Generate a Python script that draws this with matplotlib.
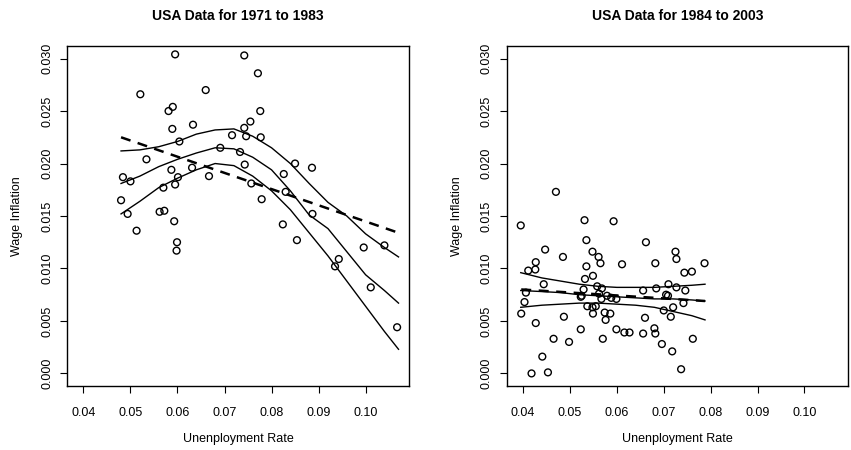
import matplotlib.pyplot as plt

plt.rcParams['font.family'] = ['Liberation Sans', 'DejaVu Sans']

# 1971-1983: unemployment rate vs wage inflation
early_u = [0.0595, 0.0521, 0.0660, 0.0590, 0.0581, 0.0589, 0.0633, 0.0716, 0.0604, 0.0691,
           0.0733, 0.0534, 0.0484, 0.0500, 0.0587, 0.0631, 0.0601, 0.0667, 0.0570, 0.0595,
           0.0480, 0.0742, 0.0771, 0.0776, 0.0755, 0.0742, 0.0746, 0.0777, 0.0743, 0.0850,
           0.0886, 0.0826, 0.0757, 0.0830, 0.0779, 0.0887, 0.0824, 0.0854, 0.0996, 0.1040,
           0.0943, 0.0935, 0.1011, 0.1067, 0.0494, 0.0513, 0.0562, 0.0572, 0.0593, 0.0599,
           0.0598]
early_w = [0.0304, 0.0266, 0.0270, 0.0254, 0.0250, 0.0233, 0.0237, 0.0227, 0.0221, 0.0215,
           0.0211, 0.0204, 0.0187, 0.0183, 0.0194, 0.0196, 0.0187, 0.0188, 0.0177, 0.0180,
           0.0165, 0.0303, 0.0286, 0.0250, 0.0240, 0.0234, 0.0226, 0.0225, 0.0199, 0.0200,
           0.0196, 0.0190, 0.0181, 0.0173, 0.0166, 0.0152, 0.0142, 0.0127, 0.0120, 0.0122,
           0.0109, 0.0102, 0.0082, 0.0044, 0.0152, 0.0136, 0.0154, 0.0155, 0.0145, 0.0125,
           0.0117]

# 1984-2003
late_u = [0.0395, 0.0470, 0.0531, 0.0593, 0.0535, 0.0662, 0.0447, 0.0548, 0.0561, 0.0485,
          0.0565, 0.0611, 0.0682, 0.0725, 0.0727, 0.0427, 0.0411, 0.0426, 0.0535, 0.0532,
          0.0549, 0.0396, 0.0403, 0.0406, 0.0444, 0.0427, 0.0418, 0.0453, 0.0441, 0.0465,
          0.0487, 0.0498, 0.0523, 0.0523, 0.0529, 0.0537, 0.0549, 0.0555, 0.0558, 0.0570,
          0.0567, 0.0568, 0.0576, 0.0574, 0.0579, 0.0586, 0.0588, 0.0599, 0.0599, 0.0616,
          0.0627, 0.0656, 0.0656, 0.0660, 0.0680, 0.0682, 0.0684, 0.0696, 0.0700, 0.0705,
          0.0709, 0.0710, 0.0715, 0.0718, 0.0720, 0.0727, 0.0787, 0.0744, 0.0760, 0.0746,
          0.0742, 0.0762, 0.0737, 0.0562, 0.0525, 0.0548]
late_w = [0.0141, 0.0173, 0.0146, 0.0145, 0.0127, 0.0125, 0.0118, 0.0116, 0.0111, 0.0111,
          0.0105, 0.0104, 0.0105, 0.0116, 0.0109, 0.0106, 0.0098, 0.0099, 0.0102, 0.0090,
          0.0093, 0.0057, 0.0068, 0.0077, 0.0085, 0.0048, 0.0000, 0.0001, 0.0016, 0.0033,
          0.0054, 0.0030, 0.0042, 0.0073, 0.0080, 0.0064, 0.0057, 0.0064, 0.0083, 0.0033,
          0.0071, 0.0081, 0.0051, 0.0058, 0.0074, 0.0057, 0.0072, 0.0071, 0.0042, 0.0039,
          0.0039, 0.0038, 0.0079, 0.0053, 0.0043, 0.0038, 0.0081, 0.0028, 0.0060, 0.0075,
          0.0074, 0.0085, 0.0054, 0.0021, 0.0063, 0.0082, 0.0105, 0.0096, 0.0097, 0.0079,
          0.0067, 0.0033, 0.0004, 0.0076, 0.0074, 0.0063]

# smooth fit with upper / lower bands
early_gx = [0.048, 0.052, 0.056, 0.060, 0.064, 0.068, 0.072, 0.076, 0.080, 0.084,
            0.088, 0.092, 0.096, 0.100, 0.104, 0.107]
early_hi = [0.0212, 0.0213, 0.0216, 0.0221, 0.0228, 0.0232, 0.0233, 0.0226, 0.0215, 0.0200,
            0.0181, 0.0163, 0.0150, 0.0133, 0.0120, 0.0111]
early_fit = [0.0181, 0.0188, 0.0197, 0.0204, 0.0210, 0.0215, 0.0214, 0.0206, 0.0194, 0.0174,
             0.0151, 0.0138, 0.0116, 0.0094, 0.0079, 0.0067]
early_lo = [0.0152, 0.0164, 0.0177, 0.0186, 0.0194, 0.0200, 0.0198, 0.0188, 0.0174, 0.0156,
            0.0134, 0.0112, 0.0088, 0.0064, 0.0040, 0.0023]
early_lin_x = [0.048, 0.107]
early_lin_y = [0.0225, 0.0134]

late_gx = [0.0395, 0.044, 0.048, 0.052, 0.056, 0.060, 0.064, 0.068, 0.072, 0.076, 0.0788]
late_hi = [0.0096, 0.0091, 0.0088, 0.0085, 0.0083, 0.0082, 0.0082, 0.0082, 0.0083, 0.0084, 0.0085]
late_fit = [0.0079, 0.0078, 0.0077, 0.0075, 0.0074, 0.0073, 0.0072, 0.0071, 0.0071, 0.0070, 0.0069]
late_lo = [0.0063, 0.0065, 0.0066, 0.0067, 0.0067, 0.0066, 0.0065, 0.0063, 0.0059, 0.0055, 0.0051]
late_lin_x = [0.0396, 0.0788]
late_lin_y = [0.0080, 0.0069]

xticks = [0.04, 0.05, 0.06, 0.07, 0.08, 0.09, 0.10]
yticks = [0.000, 0.005, 0.010, 0.015, 0.020, 0.025, 0.030]


def panel(ax, u, w, gx, hi, fit, lo, lx, ly, title):
    ax.scatter(u, w, s=24, facecolors='none', edgecolors='black', linewidths=1.0, zorder=3)
    for curve in (hi, fit, lo):
        ax.plot(gx, curve, color='black', lw=1.0)
    ax.plot(lx, ly, color='black', lw=1.8, linestyle=(0, (4, 3)))
    ax.set_xlim(0.0365, 0.1093)
    ax.set_ylim(-0.0012, 0.0312)
    ax.set_xticks(xticks)
    ax.set_xticklabels([f'{t:.2f}' for t in xticks])
    ax.set_yticks(yticks)
    ax.set_yticklabels([f'{t:.3f}' for t in yticks], rotation=90, va='center')
    ax.tick_params(direction='out', length=5, width=0.8, labelsize=9)
    ax.tick_params(axis='x', pad=10)
    ax.tick_params(axis='y', pad=5)
    for s in ax.spines.values():
        s.set_linewidth(1.0)
    ax.set_title(title, fontsize=10, fontweight='bold', pad=19)
    ax.set_xlabel('Unenployment Rate', fontsize=9, labelpad=10)
    ax.set_ylabel('Wage Inflation', fontsize=9, labelpad=13)


fig = plt.figure(figsize=(8.51, 4.5), dpi=100)
ax1 = fig.add_axes([0.0787, 0.1422, 0.4023, 0.7556])
ax2 = fig.add_axes([0.5954, 0.1422, 0.4011, 0.7556])

panel(ax1, early_u, early_w, early_gx, early_hi, early_fit, early_lo,
      early_lin_x, early_lin_y, 'USA Data for 1971 to 1983')
panel(ax2, late_u, late_w, late_gx, late_hi, late_fit, late_lo,
      late_lin_x, late_lin_y, 'USA Data for 1984 to 2003')

fig.savefig('out.png', dpi=100)
